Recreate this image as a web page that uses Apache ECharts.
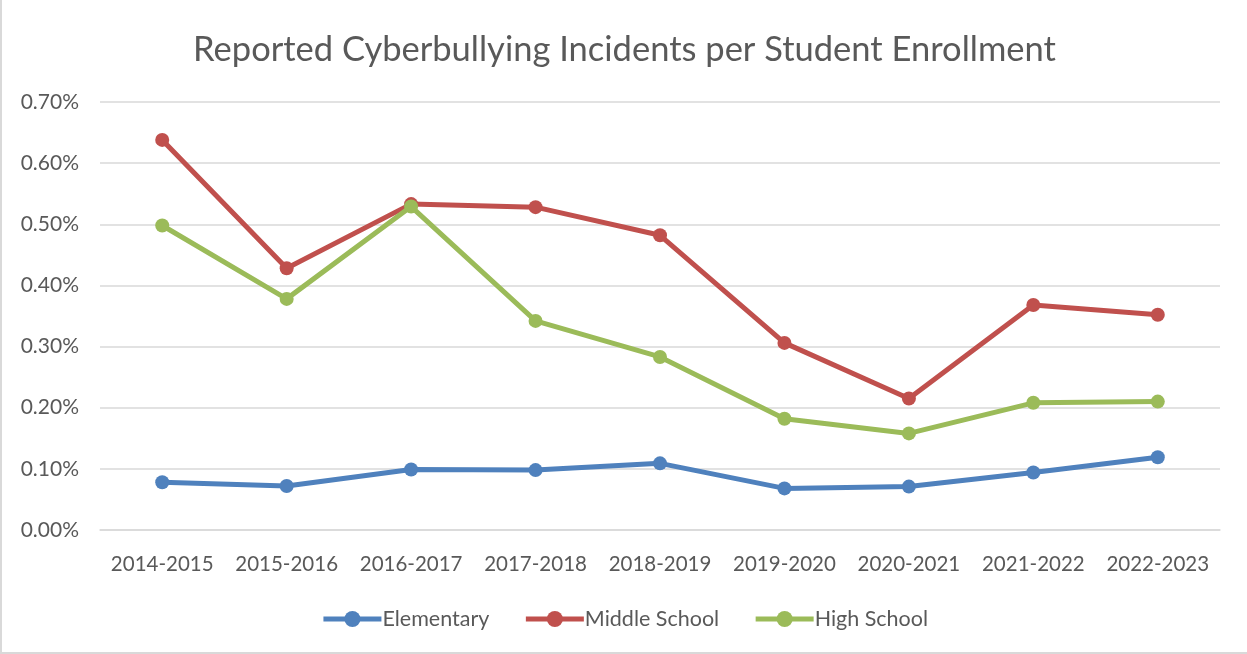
<!DOCTYPE html>
<html>
<head>
<meta charset="utf-8">
<script src="https://cdn.jsdelivr.net/npm/echarts@6/dist/echarts.min.js"></script>
<style>
  html, body { margin: 0; padding: 0; background: #fff; }
  #chart-container { width: 1247px; height: 654px; box-sizing: border-box; border-left: 2px solid #d9d9d9; border-bottom: 2px solid #d9d9d9; }
</style>
</head>
<body>
<div id="chart-container"></div>
<script>
// School years
const years = ["2014-2015", "2015-2016", "2016-2017", "2017-2018", "2018-2019",
  "2019-2020", "2020-2021", "2021-2022", "2022-2023"];

// Incidents per enrolled student, in percent
const elementary = [0.078, 0.072, 0.099, 0.098, 0.109, 0.068, 0.071, 0.094, 0.119];
const middleSchool = [0.638, 0.428, 0.533, 0.528, 0.482, 0.306, 0.215, 0.368, 0.352];
const highSchool = [0.498, 0.378, 0.529, 0.342, 0.283, 0.182, 0.158, 0.208, 0.210];

const font = "Lato, 'Open Sans', sans-serif";
const textColor = "#595959";

function lineSeries(name, data, color) {
  return {
    name: name,
    type: "line",
    data: data,
    symbol: "circle",
    symbolSize: 14,
    lineStyle: { width: 5, color: color },
    itemStyle: { color: color },
  };
}

const dom = document.getElementById("chart-container");
const myChart = echarts.init(dom, null, { renderer: "canvas" });

const option = {
  animation: false,
  title: {
    text: "Reported Cyberbullying Incidents per Student Enrollment",
    left: "center",
    top: 27,
    textStyle: { fontFamily: font, fontSize: 34.5, fontWeight: "normal", color: textColor },
  },
  grid: { left: 98, right: 27, top: 102, bottom: 122 },
  xAxis: {
    type: "category",
    data: years,
    boundaryGap: true,
    axisLine: { show: true, lineStyle: { color: "#d9d9d9", width: 1.5 } },
    axisTick: { show: false },
    axisLabel: { fontFamily: font, fontSize: 20.5, color: textColor, margin: 24, interval: 0 },
  },
  yAxis: {
    type: "value",
    min: 0,
    max: 0.7,
    interval: 0.1,
    axisLine: { show: false },
    axisTick: { show: false },
    splitLine: { lineStyle: { color: "#d9d9d9", width: 1.5 } },
    axisLabel: {
      fontFamily: font, fontSize: 21, color: textColor, margin: 21,
      formatter: (v) => v.toFixed(2) + "%",
    },
  },
  legend: {
    bottom: 17,
    left: "center",
    itemWidth: 58,
    itemHeight: 20,
    itemGap: 34,
    lineStyle: { width: 5 },
    textStyle: { fontFamily: font, fontSize: 21.5, color: textColor, padding: [0, 0, 0, -4] },
  },
  series: [
    lineSeries("Elementary", elementary, "#4F81BD"),
    lineSeries("Middle School", middleSchool, "#C0504D"),
    lineSeries("High School", highSchool, "#9BBB59"),
  ],
};

myChart.setOption(option);
window.addEventListener("resize", myChart.resize);
</script>
</body>
</html>
